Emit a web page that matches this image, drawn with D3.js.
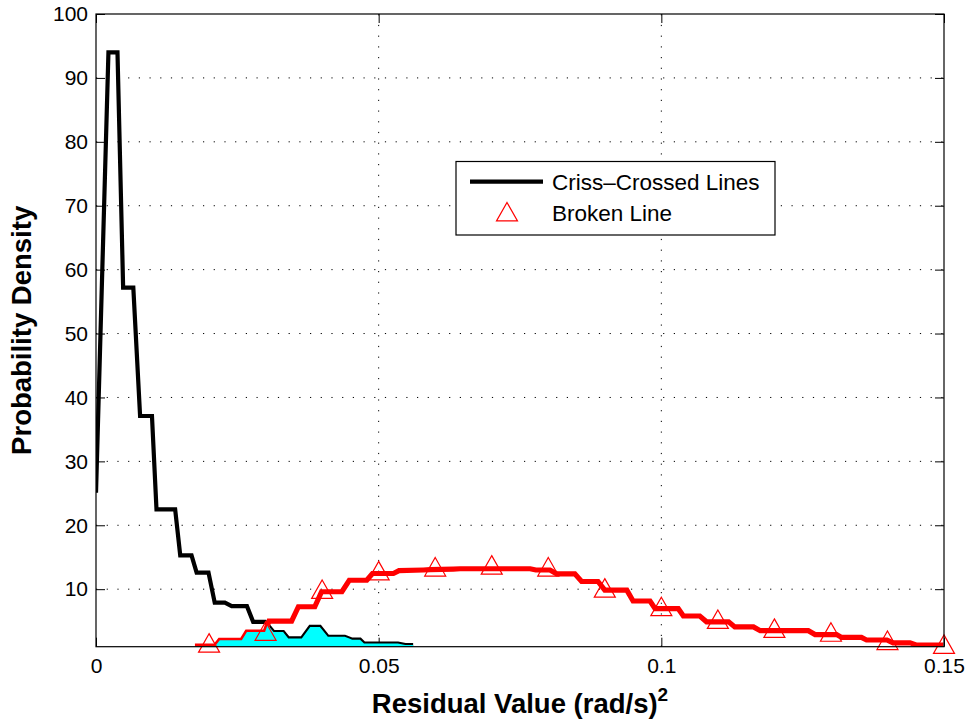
<!DOCTYPE html>
<html>
<head>
<meta charset="utf-8">
<script src="https://cdn.jsdelivr.net/npm/d3@7"></script>
<style>
  html, body { margin: 0; padding: 0; background: #fff; }
  svg { display: block; font-family: "Liberation Sans", Arial, Helvetica, sans-serif; }
</style>
</head>
<body>
<svg id="chart" width="969" height="723"></svg>
<script>
// Residual distribution for the criss-crossed lines (polyline vertices)
const crissX = [0, 0.0022, 0.0038, 0.0048, 0.0066, 0.0078, 0.0099, 0.0107, 0.0140, 0.0149, 0.0169,
  0.0178, 0.0199, 0.0210, 0.0228, 0.0240, 0.0267, 0.0278, 0.0299, 0.0314, 0.0331, 0.0340, 0.0364,
  0.0379, 0.0396, 0.0410, 0.0440, 0.0453, 0.0467, 0.0474, 0.0534, 0.0547, 0.0561];
const crissY = [25.1, 94.0, 94.0, 57.2, 57.2, 37.1, 37.1, 22.5, 22.5, 15.3, 15.3,
  12.6, 12.6, 7.9, 7.9, 7.35, 7.35, 4.9, 4.9, 3.3, 3.3, 2.3, 2.3,
  4.1, 4.1, 2.55, 2.55, 2.1, 2.1, 1.5, 1.5, 1.25, 1.25];

// Residual distribution for the broken line (polyline vertices)
const brokenX = [0.0175, 0.0211, 0.0219, 0.0258, 0.0267, 0.0299, 0.0306, 0.0346, 0.0358, 0.0387,
  0.0399, 0.0435, 0.0448, 0.0479, 0.0489, 0.0526, 0.0536, 0.0579, 0.0591, 0.0632, 0.0644, 0.0768,
  0.0778, 0.0803, 0.0815, 0.0847, 0.0859, 0.0888, 0.0900, 0.0939, 0.0950, 0.0980, 0.0989, 0.1030,
  0.1039, 0.1068, 0.1080, 0.1119, 0.1130, 0.1163, 0.1175, 0.1260, 0.1272, 0.1310, 0.1319, 0.1354,
  0.1363, 0.1399, 0.1410, 0.1440, 0.1452, 0.1499];
const brokenY = [1.1, 1.1, 2.0, 2.0, 3.3, 3.3, 5.0, 5.0, 7.25, 7.25,
  9.6, 9.6, 11.4, 11.4, 12.45, 12.45, 12.9, 13.0, 13.05, 13.15, 13.2, 13.2,
  13.0, 13.0, 12.4, 12.4, 11.2, 11.2, 9.85, 9.85, 8.15, 8.15, 6.95, 6.95,
  5.8, 5.8, 4.9, 4.9, 4.1, 4.1, 3.5, 3.5, 2.9, 2.9, 2.45, 2.45,
  2.05, 2.05, 1.6, 1.6, 1.25, 1.25];

// Broken-line marker samples
const markerX = [0.02, 0.03, 0.04, 0.05, 0.06, 0.07, 0.08, 0.09, 0.10, 0.11, 0.12, 0.13, 0.14, 0.15];
const markerY = [1.6, 3.45, 10.0, 12.9, 13.5, 13.8, 13.5, 10.2, 7.3, 5.3, 3.9, 3.3, 2.0, 1.4];

// Axis ticks
const xTicks = [0, 0.05, 0.1, 0.15];
const xTickLabels = ["0", "0.05", "0.1", "0.15"];
const yTicks = [10, 20, 30, 40, 50, 60, 70, 80, 90, 100];

const xDomain = [0, 0.15];
const yDomain = [1, 100];

const plot = { left: 96, right: 944, top: 14, bottom: 646.7 };
const tickFont = 21;

const svg = d3.select("#chart");
const x = d3.scaleLinear().domain(xDomain).range([plot.left, plot.right]);
const y = d3.scaleLinear().domain(yDomain).range([plot.bottom, plot.top]);

svg.append("defs").append("clipPath").attr("id", "plotClip")
  .append("rect")
  .attr("x", plot.left).attr("y", plot.top)
  .attr("width", plot.right - plot.left).attr("height", plot.bottom - plot.top);

// Dotted grid
const grid = svg.append("g").attr("stroke", "#000").attr("stroke-width", 1)
  .attr("stroke-dasharray", "1.2,9.5").attr("fill", "none");
grid.selectAll("line.gx").data(xTicks.filter(t => t > xDomain[0] && t < xDomain[1]))
  .join("line").attr("class", "gx")
  .attr("x1", d => x(d)).attr("x2", d => x(d))
  .attr("y1", plot.bottom).attr("y2", plot.top);
grid.selectAll("line.gy").data(yTicks.filter(t => t < yDomain[1]))
  .join("line").attr("class", "gy")
  .attr("y1", d => y(d)).attr("y2", d => y(d))
  .attr("x1", plot.left).attr("x2", plot.right);

// Axes with inward ticks on all four sides
const tickLen = 9;
const axes = svg.append("g");
axes.append("g").attr("transform", `translate(0,${plot.bottom})`)
  .call(d3.axisBottom(x).tickValues(xTicks).tickFormat((d, i) => xTickLabels[i])
    .tickSizeInner(-tickLen).tickSizeOuter(0).tickPadding(11))
  .call(g => g.select(".domain").remove())
  .call(g => g.selectAll("text").attr("font-size", tickFont).attr("font-family", "Liberation Sans, Arial, sans-serif"));
axes.append("g").attr("transform", `translate(0,${plot.top})`)
  .call(d3.axisTop(x).tickValues(xTicks).tickFormat("").tickSizeInner(-tickLen).tickSizeOuter(0))
  .call(g => g.select(".domain").remove());
axes.append("g").attr("transform", `translate(${plot.left},0)`)
  .call(d3.axisLeft(y).tickValues(yTicks).tickFormat(d3.format("d"))
    .tickSizeInner(-tickLen).tickSizeOuter(0).tickPadding(8))
  .call(g => g.select(".domain").remove())
  .call(g => g.selectAll("text").attr("font-size", tickFont).attr("font-family", "Liberation Sans, Arial, sans-serif"));
axes.append("g").attr("transform", `translate(${plot.right},0)`)
  .call(d3.axisRight(y).tickValues(yTicks).tickFormat("").tickSizeInner(-tickLen).tickSizeOuter(0))
  .call(g => g.select(".domain").remove());
axes.selectAll(".tick line").attr("stroke", "#000").attr("stroke-width", 1);

// Series geometry
const crissPts = crissX.map((v, i) => [v, crissY[i]]);
const brokenPts = brokenX.map((v, i) => [v, brokenY[i]]);
const line = d3.line().x(d => x(d[0])).y(d => y(d[1]));

const series = svg.append("g").attr("clip-path", "url(#plotClip)");

// Markers sit underneath the lines
const tri = (cx, cy, w, h) => `M${cx},${cy - h / 2}L${cx + w / 2},${cy + h / 2}L${cx - w / 2},${cy + h / 2}Z`;
svg.append("g").selectAll("path").data(markerX.map((v, i) => [v, markerY[i]]))
  .join("path")
  .attr("d", d => tri(x(d[0]), y(d[1]), 21, 18.5))
  .attr("fill", "none").attr("stroke", "#ff0000").attr("stroke-width", 1.2);

series.append("path").datum(crissPts).attr("d", line)
  .attr("fill", "none").attr("stroke", "#000").attr("stroke-width", 4.2)
  .attr("stroke-linejoin", "miter");
series.append("path").datum(brokenPts).attr("d", line)
  .attr("fill", "none").attr("stroke", "#ff0000").attr("stroke-width", 5.2)
  .attr("stroke-linejoin", "miter");

// Overlap region: area under the lower of the two distributions
function interp(xs, ys, v) {
  if (v < xs[0] || v > xs[xs.length - 1]) return NaN;
  for (let i = 1; i < xs.length; i++) {
    if (v <= xs[i]) {
      const t = xs[i] === xs[i - 1] ? 0 : (v - xs[i - 1]) / (xs[i] - xs[i - 1]);
      return ys[i - 1] + t * (ys[i] - ys[i - 1]);
    }
  }
  return ys[ys.length - 1];
}
const lo = Math.max(crissX[0], brokenX[0]);
const hi = Math.min(crissX[crissX.length - 1], brokenX[brokenX.length - 1]);
const xs = Array.from(new Set(crissX.concat(brokenX).filter(v => v >= lo && v <= hi))).sort((a, b) => a - b);
const withCross = [];
for (let i = 0; i < xs.length; i++) {
  if (i > 0) {
    const a = xs[i - 1], b = xs[i];
    const da = interp(crissX, crissY, a) - interp(brokenX, brokenY, a);
    const db = interp(crissX, crissY, b) - interp(brokenX, brokenY, b);
    if (da * db < 0) withCross.push(a + (b - a) * da / (da - db));
  }
  withCross.push(xs[i]);
}
const overlap = withCross.map(v => [v, Math.min(interp(crissX, crissY, v), interp(brokenX, brokenY, v))]);
series.append("path").datum(overlap)
  .attr("d", d3.area().x(d => x(d[0])).y0(y(yDomain[0])).y1(d => y(d[1])))
  .attr("fill", "#00ffff").attr("stroke", "none");

// Axes box
svg.append("rect")
  .attr("x", plot.left).attr("y", plot.top)
  .attr("width", plot.right - plot.left).attr("height", plot.bottom - plot.top)
  .attr("fill", "none").attr("stroke", "#000").attr("stroke-width", 1.2);

// Axis titles
const xTitle = svg.append("text")
  .attr("x", (plot.left + plot.right) / 2).attr("y", 713)
  .attr("text-anchor", "middle").attr("font-weight", "bold").attr("font-size", 27.5);
xTitle.append("tspan").text("Residual Value (rad/s)");
xTitle.append("tspan").attr("dy", -12).attr("font-size", 19).text("2");

svg.append("text")
  .attr("transform", `translate(31,${(plot.top + plot.bottom) / 2}) rotate(-90)`)
  .attr("text-anchor", "middle").attr("font-weight", "bold").attr("font-size", 27.5)
  .text("Probability Density");

// Legend
const lg = svg.append("g");
lg.append("rect").attr("x", 456).attr("y", 161.5).attr("width", 319).attr("height", 73.5)
  .attr("fill", "#fff").attr("stroke", "#000").attr("stroke-width", 1.2);
lg.append("line").attr("x1", 470).attr("x2", 543).attr("y1", 181.7).attr("y2", 181.7)
  .attr("stroke", "#000").attr("stroke-width", 4.2);
lg.append("text").attr("x", 552).attr("y", 189.5).attr("font-size", 22.5).text("Criss\u2013Crossed Lines");
lg.append("path").attr("d", tri(507, 211.7, 21, 18.5))
  .attr("fill", "none").attr("stroke", "#ff0000").attr("stroke-width", 1.2);
lg.append("text").attr("x", 552).attr("y", 221).attr("font-size", 22.5).text("Broken Line");
</script>
</body>
</html>
